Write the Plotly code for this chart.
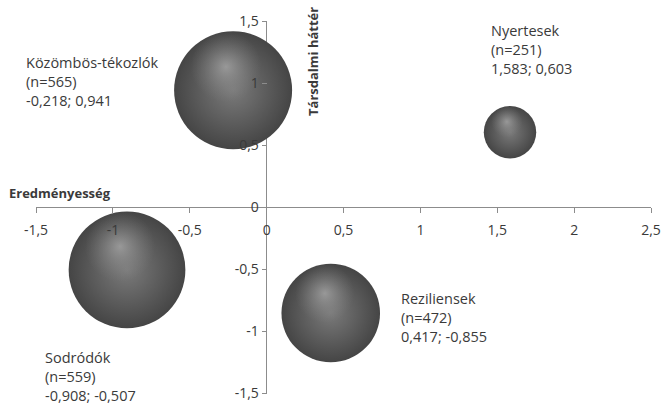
import plotly.graph_objects as go

# Cluster groups: position on the two axes and group size
groups = ["Közömbös-tékozlók", "Nyertesek", "Sodródók", "Reziliensek"]
eredmenyesseg = [-0.218, 1.583, -0.908, 0.417]
tarsadalmi_hatter = [0.941, 0.603, -0.507, -0.855]
n_size = [565, 251, 559, 472]

x_ticks = [-1.5, -1, -0.5, 0, 0.5, 1, 1.5, 2, 2.5]
x_tick_labels = ["-1,5", "-1", "-0,5", "0", "0,5", "1", "1,5", "2", "2,5"]
y_ticks = [-1.5, -1, -0.5, 0, 0.5, 1, 1.5]
y_tick_labels = ["-1,5", "-1", "-0,5", "0", "0,5", "1", "1,5"]

# label offsets in pixels from each bubble centre (left edge / vertical middle of the text block)
label_dx = [-209, -21, -84, 68]
label_dy = [9, 83, -107, -4]

W, H = 661, 406
M = dict(l=36, r=10, t=21, b=13)
PW, PH = W - M["l"] - M["r"], H - M["t"] - M["b"]
X_RANGE = [-1.5, 2.5]
Y_RANGE = [-1.5, 1.5]
FONT = "Open Sans"
TEXT = "#3a3a3a"
AXIS = "#8c8c8c"

# bubble diameter in px for the largest group
MAX_D = 118
sizeref = max(n_size) / MAX_D

px_per_x = PW / (X_RANGE[1] - X_RANGE[0])
px_per_y = PH / (Y_RANGE[1] - Y_RANGE[0])

fig = go.Figure()

# sphere body: dark rim fading to a mid grey
fig.add_trace(go.Scatter(
    x=eredmenyesseg, y=tarsadalmi_hatter, mode="markers",
    marker=dict(size=n_size, sizemode="diameter", sizeref=sizeref, opacity=1,
                color="#454545", line=dict(width=0),
                gradient=dict(type="radial", color="#7a7a7a")),
    hoverinfo="skip", showlegend=False,
))

# specular highlight, slightly up and to the left of each sphere's centre
diam = [s / sizeref for s in n_size]
hx = [x - 0.06 * d / px_per_x for x, d in zip(eredmenyesseg, diam)]
hy = [y + 0.2 * d / px_per_y for y, d in zip(tarsadalmi_hatter, diam)]
fig.add_trace(go.Scatter(
    x=hx, y=hy, mode="markers",
    marker=dict(size=[0.6 * s for s in n_size], sizemode="diameter", sizeref=sizeref, opacity=1,
                color="rgba(130,130,130,0)", line=dict(width=0),
                gradient=dict(type="radial", color="rgba(170,170,170,0.75)")),
    hoverinfo="skip", showlegend=False,
))

for g, x, y, n, dx, dy in zip(groups, eredmenyesseg, tarsadalmi_hatter, n_size, label_dx, label_dy):
    coords = f"{x:.3f}; {y:.3f}".replace(".", ",")
    fig.add_annotation(
        x=x, y=y, xref="x", yref="y",
        text=f"{g}<br>(n={n})<br>{coords}",
        showarrow=False, xanchor="left", yanchor="middle", align="left",
        xshift=dx, yshift=dy,
        font=dict(family=FONT, size=14.5, color=TEXT),
    )

# axis titles, placed in pixel terms and converted to paper fractions
def paper_x(px):
    return (px - M["l"]) / PW

def paper_y(py):
    return (H - py - M["b"]) / PH

fig.add_annotation(
    text="<b>Eredményesség</b>", x=paper_x(60), y=paper_y(193),
    xref="paper", yref="paper", xanchor="center", yanchor="middle",
    showarrow=False, font=dict(family=FONT, size=13, color=TEXT),
)
fig.add_annotation(
    text="<b>Társdalmi háttér</b>", textangle=-90, x=paper_x(313), y=paper_y(62),
    xref="paper", yref="paper", xanchor="center", yanchor="middle",
    showarrow=False, font=dict(family=FONT, size=13, color=TEXT),
)

fig.update_layout(
    width=W, height=H, margin=M,
    paper_bgcolor="white", plot_bgcolor="white",
    font=dict(family=FONT, size=14, color=TEXT),
    xaxis=dict(
        range=X_RANGE, tickvals=x_ticks, ticktext=x_tick_labels,
        showgrid=False, showline=False, zeroline=True, automargin=False,
        zerolinecolor=AXIS, zerolinewidth=1,
        anchor="free", position=(0 - Y_RANGE[0]) / (Y_RANGE[1] - Y_RANGE[0]),
        ticks="outside", ticklen=5, tickcolor=AXIS, ticklabelstandoff=5,
        layer="above traces",
    ),
    yaxis=dict(
        range=Y_RANGE, tickvals=y_ticks, ticktext=y_tick_labels,
        showgrid=False, showline=False, zeroline=True, automargin=False,
        zerolinecolor=AXIS, zerolinewidth=1,
        anchor="free", position=(0 - X_RANGE[0]) / (X_RANGE[1] - X_RANGE[0]),
        ticks="outside", ticklen=5, tickcolor=AXIS,
        layer="above traces",
    ),
)

fig.write_html("out.html")
